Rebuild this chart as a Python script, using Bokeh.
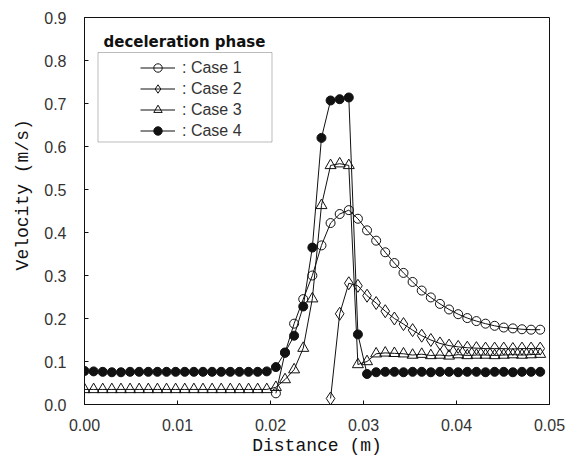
import math
from bokeh.plotting import figure
from bokeh.models import (Range1d, FixedTicker, PrintfTickFormatter, Legend,
                          LegendItem, Label, BoxAnnotation)
from bokeh.embed import file_html
from bokeh.resources import INLINE

# ---------------- data ----------------
distance = [0.0, 0.00098, 0.00196, 0.00294, 0.00392, 0.0049, 0.00588, 0.00686,
            0.00784, 0.00882, 0.0098, 0.01078, 0.01176, 0.01274, 0.01372, 0.0147,
            0.01568, 0.01666, 0.01764, 0.01862, 0.0196, 0.02058, 0.02156, 0.02254,
            0.02352, 0.0245, 0.02548, 0.02646, 0.02744, 0.02842, 0.0294, 0.03038,
            0.03136, 0.03234, 0.03332, 0.0343, 0.03528, 0.03626, 0.03724, 0.03822,
            0.0392, 0.04018, 0.04116, 0.04214, 0.04312, 0.0441, 0.04508, 0.04606,
            0.04704, 0.04802, 0.049]

case4 = [0.078, 0.077, 0.076, 0.075, 0.075, 0.076, 0.076, 0.076, 0.076, 0.076,
         0.076, 0.076, 0.076, 0.076, 0.076, 0.076, 0.076, 0.076, 0.076, 0.076,
         0.077, 0.087, 0.121, 0.160, 0.228, 0.365, 0.620, 0.707, 0.710, 0.714,
         0.163, 0.071, 0.075, 0.076, 0.076, 0.075, 0.076, 0.076, 0.075, 0.076,
         0.076, 0.075, 0.076, 0.076, 0.075, 0.076, 0.076, 0.075, 0.076, 0.076,
         0.076]

case3 = [0.035, 0.035, 0.035, 0.035, 0.035, 0.035, 0.035, 0.035, 0.035, 0.035,
         0.035, 0.035, 0.035, 0.035, 0.035, 0.035, 0.035, 0.035, 0.035, 0.035,
         0.035, 0.040, 0.058, 0.081, 0.131, 0.246, 0.463, 0.556, 0.560, 0.556,
         0.093, 0.100, 0.118, 0.120, 0.119, 0.118, 0.115, 0.117, 0.114, 0.115,
         0.113, 0.116, 0.114, 0.115, 0.115, 0.114, 0.115, 0.116, 0.115, 0.116,
         0.117]

case1_start = 21
case1 = [0.026, 0.120, 0.188, 0.245, 0.300, 0.370, 0.422, 0.443, 0.452, 0.432,
         0.405, 0.381, 0.354, 0.329, 0.306, 0.285, 0.265, 0.249, 0.234, 0.221,
         0.210, 0.201, 0.194, 0.188, 0.183, 0.179, 0.177, 0.175, 0.174, 0.174]

case2_start = 27
case2 = [0.014, 0.211, 0.282, 0.276, 0.253, 0.236, 0.217, 0.200, 0.187, 0.173,
         0.160, 0.150, 0.142, 0.137, 0.134, 0.132, 0.131, 0.130, 0.130, 0.130,
         0.129, 0.130, 0.130, 0.130]

x_ticks = [0.0, 0.01, 0.02, 0.03, 0.04, 0.05]
y_ticks = [0.0, 0.1, 0.2, 0.3, 0.4, 0.5, 0.6, 0.7, 0.8, 0.9]
series_labels = [": Case 1", ": Case 2", ": Case 3", ": Case 4"]

# ---------------- figure ----------------
p = figure(width=566, height=461, output_backend="svg", toolbar_location=None,
           x_range=Range1d(0, 0.05), y_range=Range1d(0, 0.9),
           min_border_left=84, min_border_right=17, min_border_top=17,
           min_border_bottom=57)
p.grid.visible = False
p.outline_line_color = "#111111"
p.outline_line_width = 1
p.background_fill_color = "white"
p.border_fill_color = "white"

for ax in (p.xaxis[0], p.yaxis[0]):
    ax.axis_line_color = "#111111"
    ax.major_tick_in = 4
    ax.major_tick_out = 0
    ax.minor_tick_line_color = None
    ax.major_tick_line_color = "#111111"
    ax.major_label_text_font = "Liberation Sans"
    ax.major_label_text_font_size = "16px"
    ax.major_label_text_color = "#333333"
    ax.axis_label_text_font = "Liberation Mono"
    ax.axis_label_text_font_size = "18px"
    ax.axis_label_text_font_style = "normal"
    ax.axis_label_text_color = "#111111"

p.xaxis.ticker = FixedTicker(ticks=x_ticks)
p.xaxis.formatter = PrintfTickFormatter(format="%.2f")
p.xaxis.major_label_standoff = 14
p.xaxis.axis_label = "Distance (m)"
p.xaxis.axis_label_standoff = 2
p.yaxis.ticker = FixedTicker(ticks=y_ticks)
p.yaxis.formatter = PrintfTickFormatter(format="%.1f")
p.yaxis.major_label_standoff = 18
p.yaxis.axis_label = "\u00a0\u00a0\u00a0Velocity (m/s)"
p.yaxis.axis_label_standoff = 8

lc = "#111111"
x1 = distance[case1_start:case1_start + len(case1)]
x2 = distance[case2_start:case2_start + len(case2)]

l1 = p.line(x1, case1, line_color=lc, line_width=1)
m1 = p.scatter(x1, case1, marker="circle", size=9, line_color=lc, fill_alpha=0, line_width=1)
l2 = p.line(x2, case2, line_color=lc, line_width=1)
m2 = p.scatter(x2, case2, marker="diamond", size=13, line_color=lc, fill_alpha=0, line_width=1)
l3 = p.line(distance, case3, line_color=lc, line_width=1)
m3 = p.scatter(distance, case3, marker="triangle", size=11, line_color=lc, fill_alpha=0, line_width=1)
l4 = p.line(distance, case4, line_color=lc, line_width=1)
m4 = p.scatter(distance, case4, marker="circle", size=9, line_color=lc, fill_color=lc, line_width=1)

legend = Legend(items=[LegendItem(label=series_labels[0], renderers=[l1, m1]),
                       LegendItem(label=series_labels[1], renderers=[l2, m2]),
                       LegendItem(label=series_labels[2], renderers=[l3, m3]),
                       LegendItem(label=series_labels[3], renderers=[l4, m4])],
                location=(56, 263), padding=0, margin=0, spacing=0,
                glyph_width=35, glyph_height=21, label_height=21, label_standoff=7,
                border_line_color=None, background_fill_alpha=0,
                label_text_font="Liberation Sans", label_text_font_size="16px",
                label_text_color="#333333")
p.add_layout(legend)

box = BoxAnnotation(left=0.00145, right=0.02016, bottom=0.6105, top=0.8186,
                    fill_alpha=0, line_color="#222222", line_width=1)
p.add_layout(box)

p.add_layout(Label(x=0.00204, y=0.843, text="deceleration phase",
                   text_font="DejaVu Sans", text_font_style="bold",
                   text_font_size="15px", text_baseline="middle", text_align="left",
                   text_color="#111111"))

open("out.html", "w").write(file_html(p, INLINE))
